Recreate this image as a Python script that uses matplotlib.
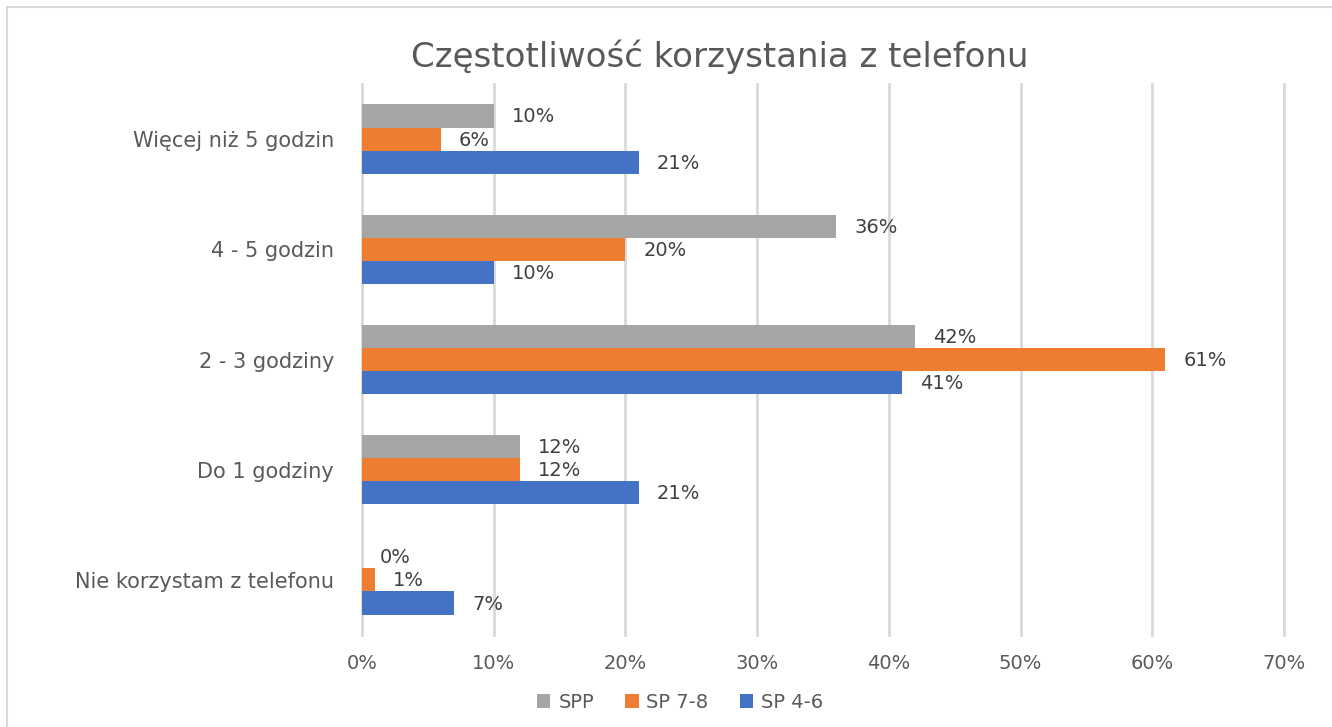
import matplotlib
matplotlib.use("Agg")
import matplotlib.pyplot as plt
import numpy as np
from matplotlib.patches import Rectangle
from matplotlib.ticker import PercentFormatter

categories = ["Nie korzystam z telefonu", "Do 1 godziny", "2 - 3 godziny", "4 - 5 godzin", "Więcej niż 5 godzin"]
series_names = ["SP 4-6", "SP 7-8", "SPP"]
sp46 = [7, 21, 41, 10, 21]
sp78 = [1, 12, 61, 20, 6]
spp = [0, 12, 42, 36, 10]
colors = ["#4472C4", "#ED7D31", "#A5A5A5"]
title = "Częstotliwość korzystania z telefonu"

plt.rcParams['font.family'] = ['DejaVu Sans']

fig = plt.figure(figsize=(13.32, 7.27), dpi=100)
ax = fig.add_axes([362/1332, 1-635/727, (1284-362)/1332, (635-84)/727])

y = np.arange(len(categories))
h = 0.21
offsets = [-h, 0, h]
bars_all = []
for vals, name, col, off in zip([sp46, sp78, spp], series_names, colors, offsets):
    b = ax.barh(y + off, vals, height=h, color=col, label=name, zorder=3)
    bars_all.append(b)
    for rect, v in zip(b, vals):
        ax.annotate(f"{v}%", (rect.get_width(), rect.get_y() + rect.get_height()/2),
                    xytext=(18, -1), textcoords="offset pixels",
                    ha="left", va="center", fontsize=14, color="#404040")

ax.set_xlim(0, 70)
ax.set_ylim(-0.5, len(categories) - 0.5)
ax.set_xticks(np.arange(0, 71, 10))
ax.xaxis.set_major_formatter(PercentFormatter(decimals=0))
ax.set_yticks(y)
ax.set_yticklabels(categories)
ax.tick_params(axis="both", length=0, labelcolor="#595959")
ax.tick_params(axis="x", pad=14, labelsize=14)
ax.tick_params(axis="y", pad=20, labelsize=15)
ax.grid(axis="x", color="#D9D9D9", linewidth=2, zorder=0)
for gl in ax.get_xgridlines():
    gl.set_clip_on(False)
for s in ax.spines.values():
    s.set_visible(False)

fig.text(720/1332, 1-57/727, title, ha="center", va="center", fontsize=24.5, color="#595959")

handles = [bars_all[2], bars_all[1], bars_all[0]]
labels = ["SPP", "SP 7-8", "SP 4-6"]
leg = fig.legend(handles, labels, loc="center", bbox_to_anchor=(680/1332, 1-702/727),
                 ncol=3, frameon=False, fontsize=14, handlelength=0.7, handleheight=0.7,
                 handletextpad=0.4, columnspacing=1.6)
for t in leg.get_texts():
    t.set_color("#595959")

fig.patches.append(Rectangle((7/1332, -0.1), 1.2, 1 - 7/727 + 0.1, transform=fig.transFigure,
                             fill=False, edgecolor="#D9D9D9", linewidth=1.5))

fig.savefig("out.png", dpi=100)
